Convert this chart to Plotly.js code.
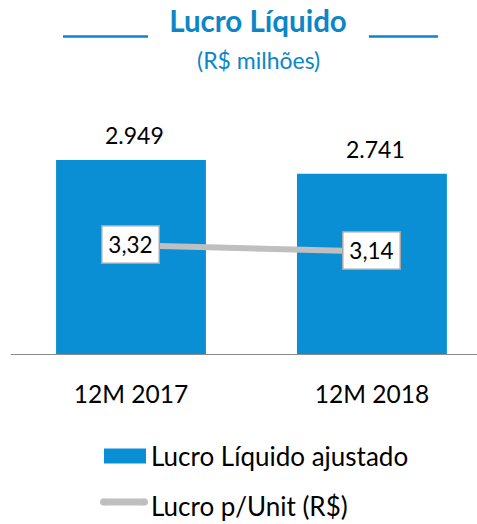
<!DOCTYPE html>
<html>
<head>
<meta charset="utf-8">
<script src="https://cdn.plot.ly/plotly-3.0.1.min.js"></script>
<style>html,body{margin:0;padding:0;background:#fff;}#chart{width:477px;height:524px;}</style>
</head>
<body>
<div id="chart"></div>
<script>
const categories = ['12M 2017', '12M 2018'];
const lucroLiquido = [2949, 2741];
const lucroUnit = [3.32, 3.14];
const barName = 'Lucro Líquido ajustado';
const lineName = 'Lucro p/Unit (R$)';
const titleText = 'Lucro Líquido';
const subtitleText = '(R$ milhões)';

const W = 477, H = 524;
const L = 11, R = 477, T = 100, B = 354;
const px = x => (x - L) / (R - L);
const py = y => (B - y) / (B - T);

const FONT = 'Lato, Calibri, Carlito, sans-serif';
const BLUE = '#0a8fd5';
const TITLE_BLUE = '#0b86c6';
const GRAY = '#bfbfbf';

const fmtThousands = v => String(v).replace(/\B(?=(\d{3})+(?!\d))/g, '.');
const fmtDec = v => v.toFixed(2).replace('.', ',');

const k1 = 194 / 2949;
const k2 = 35, a2 = 0.211;

const traces = [
  {
    type: 'bar', name: barName, x: categories, y: lucroLiquido,
    marker: {color: BLUE, line: {width: 0}}, width: 0.622,
    hoverinfo: 'skip', showlegend: false
  },
  {
    type: 'scatter', mode: 'lines', name: lineName, x: categories, y: lucroUnit,
    yaxis: 'y2', line: {color: GRAY, width: 6}, hoverinfo: 'skip', showlegend: false
  }
];

const annotations = [];
categories.forEach((c, i) => {
  annotations.push({
    x: c, y: lucroLiquido[i], xref: 'x', yref: 'y', text: fmtThousands(lucroLiquido[i]),
    showarrow: false, yanchor: 'middle', yshift: 25, xshift: 4,
    font: {family: FONT, size: 23, color: '#000'}
  });
  annotations.push({
    x: c, y: lucroUnit[i], xref: 'x', yref: 'y2', text: fmtDec(lucroUnit[i]),
    showarrow: false, yanchor: 'middle', yshift: 1,
    bgcolor: '#ffffff', bordercolor: '#a6a6a6', borderwidth: 1.5, borderpad: 2,
    width: 52, height: 32,
    font: {family: FONT, size: 22.5, color: '#000'}
  });
});
annotations.push({
  xref: 'paper', yref: 'paper', x: px(258), y: py(60), text: subtitleText,
  showarrow: false, xanchor: 'center', yanchor: 'middle',
  font: {family: FONT, size: 23, color: TITLE_BLUE}
});
annotations.push({
  xref: 'paper', yref: 'paper', x: px(149), y: py(456), text: barName,
  showarrow: false, xanchor: 'left', yanchor: 'middle',
  font: {family: FONT, size: 26, color: '#000'}
});
annotations.push({
  xref: 'paper', yref: 'paper', x: px(149), y: py(505.5), text: lineName,
  showarrow: false, xanchor: 'left', yanchor: 'middle',
  font: {family: FONT, size: 26, color: '#000'}
});

const shapes = [
  {type: 'line', xref: 'paper', yref: 'paper', x0: px(63), x1: px(148), y0: py(36.5), y1: py(36.5), line: {color: TITLE_BLUE, width: 2.5}},
  {type: 'line', xref: 'paper', yref: 'paper', x0: px(369), x1: px(438), y0: py(36.5), y1: py(36.5), line: {color: TITLE_BLUE, width: 2.5}},
  {type: 'rect', xref: 'paper', yref: 'paper', x0: px(104), x1: px(146), y0: py(463.5), y1: py(448.5), fillcolor: BLUE, line: {width: 0}},
  {type: 'line', xref: 'paper', yref: 'paper', x0: px(103.5), x1: px(144.5), y0: py(502), y1: py(502), line: {color: GRAY, width: 7}},
  {type: 'circle', xref: 'paper', yref: 'paper', xsizemode: 'pixel', ysizemode: 'pixel', xanchor: px(103.5), yanchor: py(502), x0: -3.5, x1: 3.5, y0: -3.5, y1: 3.5, fillcolor: GRAY, line: {width: 0}},
  {type: 'circle', xref: 'paper', yref: 'paper', xsizemode: 'pixel', ysizemode: 'pixel', xanchor: px(144.5), yanchor: py(502), x0: -3.5, x1: 3.5, y0: -3.5, y1: 3.5, fillcolor: GRAY, line: {width: 0}}
];

const layout = {
  width: W, height: H,
  margin: {l: L, r: W - R, t: T, b: H - B, pad: 0},
  paper_bgcolor: '#fff', plot_bgcolor: '#fff',
  showlegend: false,
  separators: ',.',
  title: {
    text: '<b>' + titleText + '</b>',
    font: {family: FONT, size: 29.5, color: TITLE_BLUE},
    xref: 'container', yref: 'container', x: 258 / W, xanchor: 'center',
    y: 1 - 22 / H, yanchor: 'middle'
  },
  xaxis: {
    type: 'category', range: [-0.498, 1.436], fixedrange: true,
    showline: true, linecolor: '#8c8c8c', linewidth: 1.2,
    showgrid: false, zeroline: false, ticks: '',
    ticklabelstandoff: 18,
    tickfont: {family: FONT, size: 24.5, color: '#000'}
  },
  yaxis: {
    range: [0, (B - T) / k1], visible: false, showgrid: false, zeroline: false, fixedrange: true
  },
  yaxis2: {
    range: [a2, a2 + (B - T) / k2], overlaying: 'y', visible: false, showgrid: false, zeroline: false, fixedrange: true
  },
  annotations: annotations,
  shapes: shapes
};

Plotly.newPlot('chart', traces, layout, {staticPlot: true, displayModeBar: false});
</script>
</body>
</html>
